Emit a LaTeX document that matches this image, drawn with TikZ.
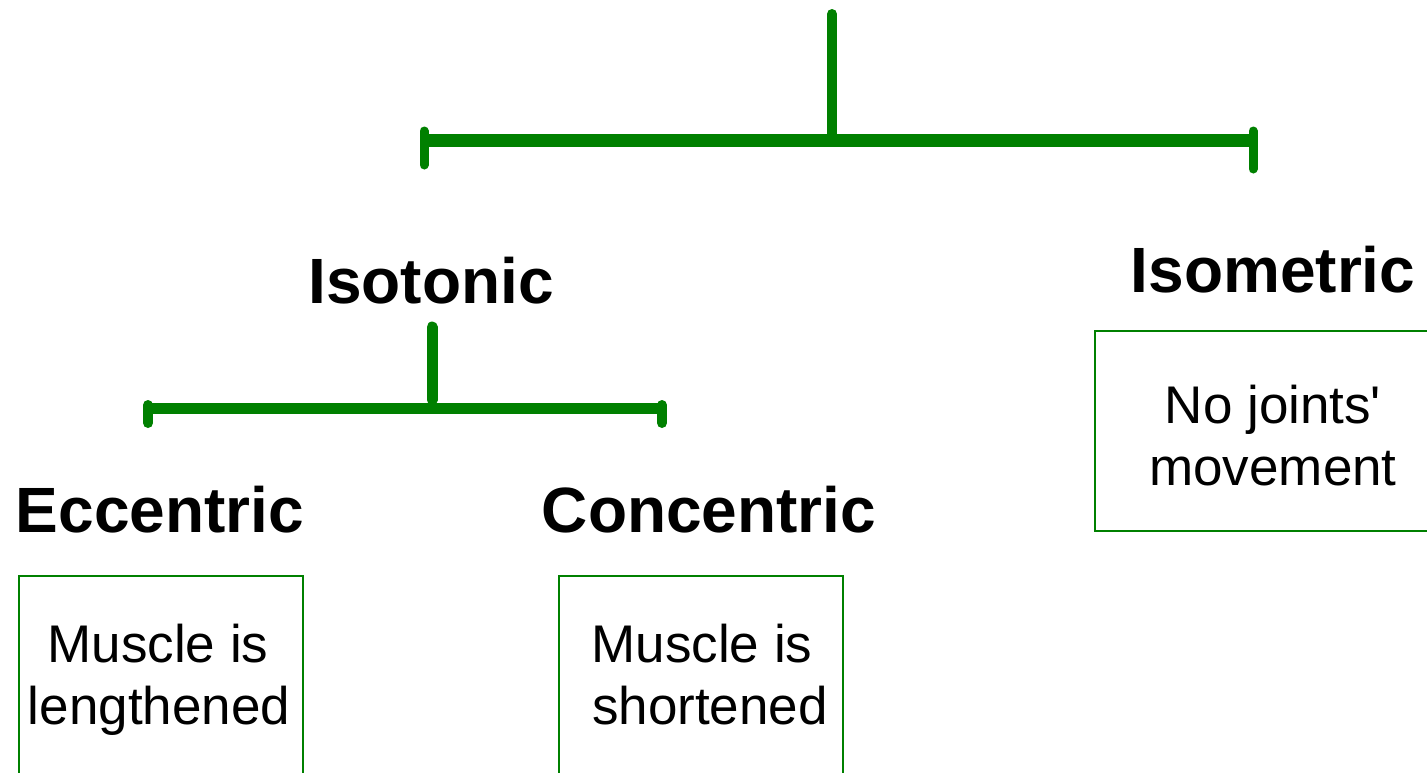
\documentclass[tikz,border=0pt]{standalone}
\usepackage{fontspec}
\setmainfont{Liberation Sans}
\definecolor{tgreen}{HTML}{008000}
\begin{document}
\begin{tikzpicture}[x=1pt,y=-1pt,
  bar/.style={draw=tgreen,line width=#1},
  barr/.style={draw=tgreen,line width=#1,line cap=round},
  head/.style={anchor=base,inner sep=0pt,font=\fontsize{64}{76}\selectfont\bfseries},
  body/.style={anchor=base,inner sep=0pt,font=\fontsize{53}{62}\selectfont},
  box/.style={draw=tgreen,line width=1.5pt,anchor=north west,inner sep=0pt,rectangle}]
\useasboundingbox (0,0) rectangle (1427,772);
% top tree
\coordinate (rtop) at (832,14);
\coordinate (rjoin) at (832,134);
\coordinate (rl) at (424,140);
\coordinate (rr) at (1253,140);
\coordinate (rlt) at (424,131);
\coordinate (rlb) at (424,165);
\coordinate (rrt) at (1253,131);
\coordinate (rrb) at (1253,169);
\draw[barr=10pt] (rtop) -- (rjoin);
\draw[bar=13pt] (rl) -- (rr);
\draw[barr=9pt] (rlt) -- (rlb);
\draw[barr=9pt] (rrt) -- (rrb);
% second tree
\coordinate (stop) at (432,327);
\coordinate (sjoin) at (432,400);
\coordinate (sl) at (148,408);
\coordinate (sr) at (662,408);
\coordinate (slt) at (148,405);
\coordinate (slb) at (148,423);
\coordinate (srt) at (662,405);
\coordinate (srb) at (662,423);
\draw[barr=11pt] (stop) -- (sjoin);
\draw[bar=11pt] (sl) -- (sr);
\draw[barr=10pt] (slt) -- (slb);
\draw[barr=10pt] (srt) -- (srb);
% headings
\node[head] (isotonic) at (431,303) {Isotonic};
\node[head] (isometric) at (1273,292) {Isometric};
\node[head] (eccentric) at (160,532) {Eccentric};
\node[head] (concentric) at (709,532) {Concentric};
% boxes
\node[box,minimum width=284pt,minimum height=210pt] (eccbox) at (18,575) {};
\node[box,minimum width=284pt,minimum height=210pt] (conbox) at (558,575) {};
\node[box,minimum width=346pt,minimum height=200pt] (isobox) at (1094,330) {};
% box texts
\node[body] (ecc1) at (158,662) {Muscle is};
\node[body] (ecc2) at (159,724) {lengthened};
\node[body] (con1) at (702,662) {Muscle is};
\node[body] (con2) at (710,724) {shortened};
\node[body] (iso1) at (1273,423) {No joints\textquotesingle};
\node[body] (iso2) at (1273,485) {movement};
\end{tikzpicture}
\end{document}
